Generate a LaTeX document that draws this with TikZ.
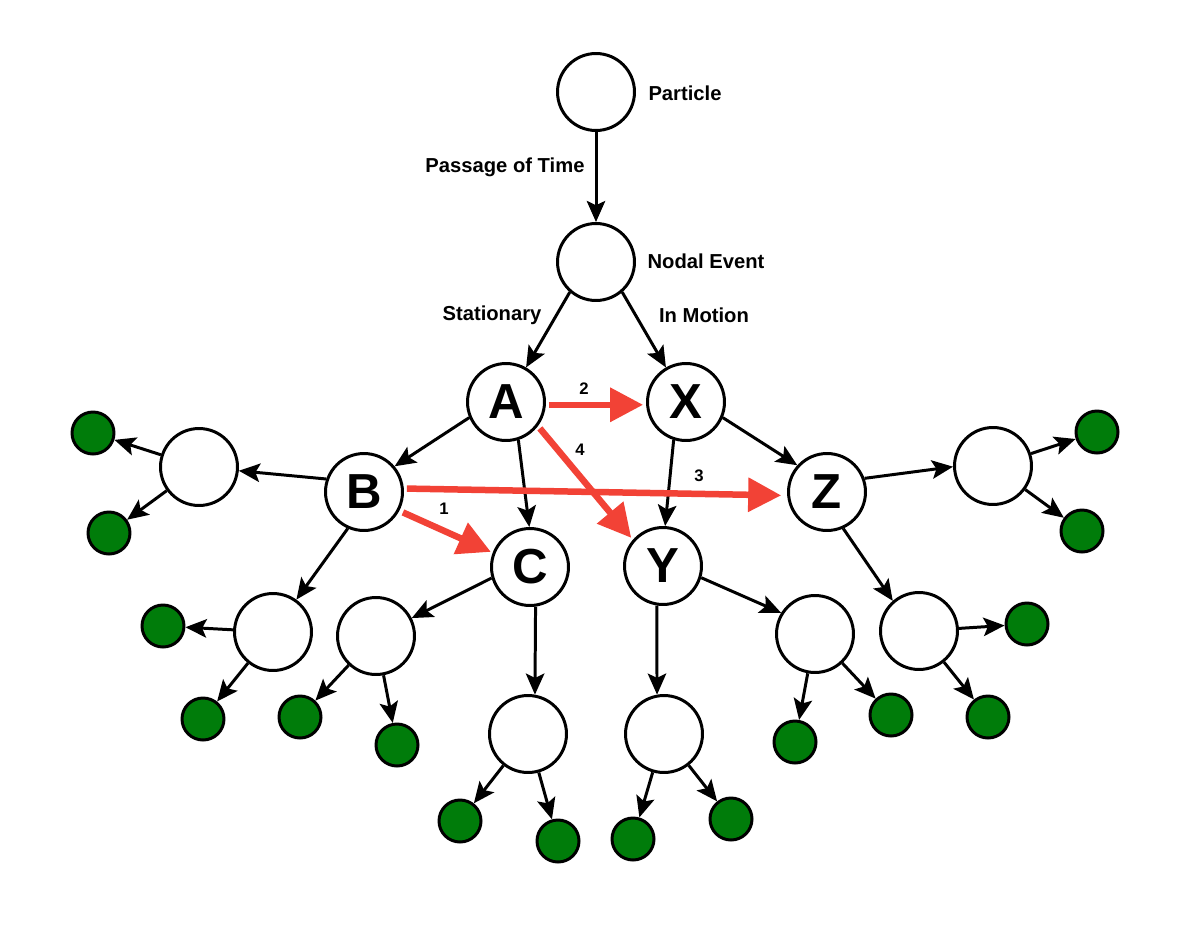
\documentclass[tikz,border=0pt]{standalone}
\usepackage{fontspec}
\setmainfont{Liberation Sans}
\usetikzlibrary{arrows.meta}
\definecolor{jumpred}{RGB}{242,66,54}
\definecolor{leafgreen}{RGB}{0,124,10}
\tikzset{
  ev/.style={circle, draw, line width=1.7pt, fill=white, minimum size=1.54cm, inner sep=0pt,
    font=\fontsize{28}{30}\selectfont\bfseries},
  leaf/.style={circle, draw, line width=1.7pt, fill=leafgreen, minimum size=0.84cm, inner sep=0pt},
  lbl/.style={font=\fontsize{11.5}{13}\selectfont\bfseries},
  num/.style={font=\fontsize{9.5}{11}\selectfont\bfseries},
  link/.style={-{Stealth[length=12pt,width=10.5pt,inset=2.5pt]}, line width=1.7pt},
  jump/.style={-{Triangle[length=0.66cm,width=0.66cm]}, line width=0.13cm, jumpred}
}
\begin{document}
\begin{tikzpicture}[x=0.02cm, y=-0.02cm]
\useasboundingbox (0,0) rectangle (1200,940);

% main chain
\node[ev] (P) at (596,92) {};
\node[ev] (N) at (596,262) {};
\node[lbl] (tPart) at (685,93) {Particle};
\node[lbl] (tNod) at (706,261) {Nodal Event};
\node[lbl] (tTime) at (505,167) {Passage of Time};
\node[lbl] (tStat) at (492,315) {Stationary};
\node[lbl] (tMov) at (704,315) {In Motion};

\node[ev] (A) at (506,402) {A};
\node[ev] (X) at (686,402) {X};
\node[ev] (B) at (364,492) {B};
\node[ev] (Z) at (827,492) {Z};
\node[ev] (C) at (530,567) {C};
\node[ev] (Y) at (663,566) {Y};

% empty branches
\foreach \n/\x/\y in {E1/199/467, E2/273/632, E3/376/636, E4/528/734,
                     E5/664/734, E6/815/634, E7/993/466, E8/919/631}
  \node[ev] (\n) at (\x,\y) {};

\draw[link] (P) -- (N);
\draw[link] (N.-131) -- (A);
\draw[link] (N.-49) -- (X);
\draw[link] (A.203) -- (B.40);
\draw[link] (A.-72) -- (C.91);
\draw[link] (X.-23) -- (Z.138);
\draw[link] (X.-108) -- (Y.87);

\draw[link] (B.161) -- (E1);
\draw[link] (B.246) -- (E2);
\draw[link] (C.196) -- (E3);
\draw[link] (C.-82) -- (E4.80);
\draw[link] (Y.-99) -- (E5.100);
\draw[link] (Y.-17) -- (E6.148);
\draw[link] (Z.20) -- (E7.181);
\draw[link] (Z.-66) -- (E8.131);

% leaves
\foreach \n/\x/\y/\p in {g1/93/433/E1, g2/109/533/E1, g3/163/626/E2, g4/203/719/E2,
                        g5/300/717/E3, g6/397/745/E3, g7/460/821/E4, g8/558/841/E4,
                        g9/633/839/E5, g10/731/819/E5, g11/795/742/E6, g12/891/715/E6,
                        g13/1097/432/E7, g14/1082/531/E7, g15/1027/624/E8, g16/988/717/E8}{
  \node[leaf] (\n) at (\x,\y) {};
  \draw[link] (\p) -- (\n);
}

% jumps
\draw[jump, shorten <=0.06cm, shorten >=0.06cm] (A.-4) -- (X.184);
\draw[jump, shorten <=0.06cm, shorten >=0.12cm] (B.5) -- (Z.185);
\draw[jump, shorten <=0.08cm, shorten >=0.04cm] (B.-28) -- (C.159);
\draw[jump, shorten <=0.06cm, shorten >=0.05cm] (A.-37) -- (Y.139);
\node[num] (n1) at (444,509) {1};
\node[num] (n2) at (584,389) {2};
\node[num] (n3) at (699,476) {3};
\node[num] (n4) at (580,450) {4};
\end{tikzpicture}
\end{document}
